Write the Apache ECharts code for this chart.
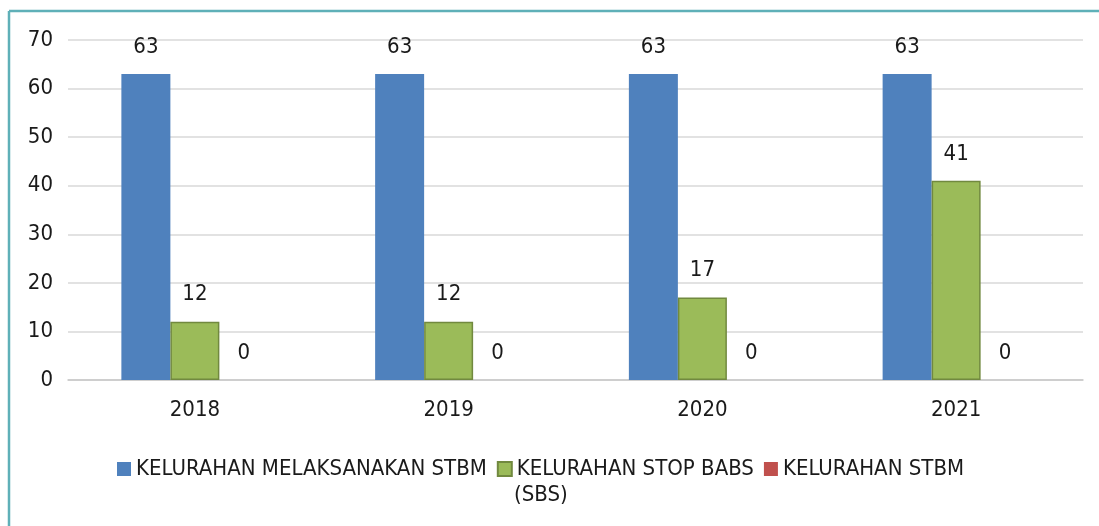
<!DOCTYPE html>
<html><head><meta charset="utf-8">
<script src="https://cdn.jsdelivr.net/npm/echarts@6/dist/echarts.min.js"></script>
<style>html,body{margin:0;padding:0;background:#fff}#c{width:1099px;height:526px}</style>
</head><body><div id="c"></div>
<script>
const categories = ['2018', '2019', '2020', '2021'];
const seriesNames = ['KELURAHAN MELAKSANAKAN STBM', 'KELURAHAN STOP BABS', 'KELURAHAN STBM'];
const melaksanakan = [63, 63, 63, 63];
const stopBabs = [12, 12, 17, 41];
const stbm = [0, 0, 0, 0];
const yTicks = { min: 0, max: 70, interval: 10 };

const FONT = "'Liberation Sans Narrow', 'DejaVu Sans Condensed', 'Noto Sans', sans-serif";
const FS = 22;
const chart = echarts.init(document.getElementById('c'), null, { renderer: 'canvas' });
const lbl = { show: true, position: 'top', distance: 16, color: '#1a1a1a', fontSize: FS, fontFamily: FONT };
chart.setOption({
  animation: false,
  textStyle: { fontFamily: FONT },
  grid: { left: 68, right: 16, top: 40, bottom: 146 },
  xAxis: {
    type: 'category', data: categories,
    axisLine: { lineStyle: { color: '#c8c8c8', width: 1.5 } },
    axisTick: { show: false },
    axisLabel: { color: '#1a1a1a', fontSize: FS, margin: 19, fontFamily: FONT }
  },
  yAxis: {
    type: 'value', min: yTicks.min, max: yTicks.max, interval: yTicks.interval,
    axisLine: { show: false }, axisTick: { show: false },
    axisLabel: { color: '#1a1a1a', fontSize: FS, margin: 15, fontFamily: FONT },
    splitLine: { lineStyle: { color: '#d9d9d9', width: 1.5 } }
  },
  legend: {
    left: 112, top: 453, itemWidth: 14, itemHeight: 14, itemGap: 10,
    icon: 'rect',
    textStyle: { color: '#1a1a1a', fontSize: FS, fontFamily: FONT },
    data: seriesNames
  },
  series: [
    { name: seriesNames[0], type: 'bar', data: melaksanakan, barWidth: 49, barGap: '0%', barCategoryGap: '42%',
      itemStyle: { color: '#4f81bd' }, label: lbl },
    { name: seriesNames[1], type: 'bar', data: stopBabs, barWidth: 49,
      itemStyle: { color: '#9bbb59', borderColor: '#71893f', borderWidth: 1.5 }, label: lbl },
    { name: seriesNames[2], type: 'bar', data: stbm, barWidth: 49,
      itemStyle: { color: '#c0504d' }, label: lbl }
  ],
  graphic: [
    { type: 'text', left: 514, top: 484, style: { text: '(SBS)', fill: '#1a1a1a', font: FS + 'px ' + FONT } },
    { type: 'line', shape: { x1: 9, y1: 11, x2: 1099, y2: 11 }, style: { stroke: '#5fb0b8', lineWidth: 2.5 } },
    { type: 'line', shape: { x1: 9, y1: 11, x2: 9, y2: 526 }, style: { stroke: '#5fb0b8', lineWidth: 2.5 } }
  ]
});
</script></body></html>
